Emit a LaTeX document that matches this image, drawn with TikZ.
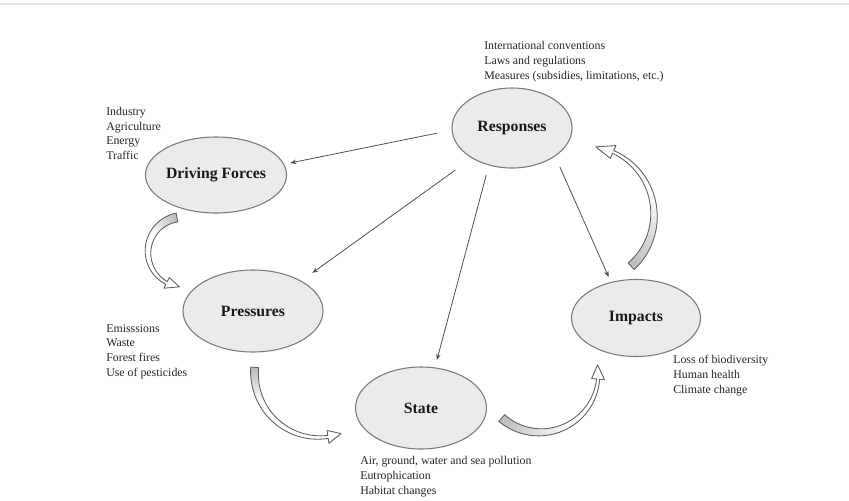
\documentclass[tikz,border=0pt]{standalone}
\usepackage{fontspec}
\setmainfont{Liberation Serif}
\usetikzlibrary{arrows.meta,shapes.geometric}
\definecolor{ellfill}{HTML}{EBEBEB}
\definecolor{ellline}{HTML}{7A7A7A}
\definecolor{arrline}{HTML}{505050}
\definecolor{bentcol}{HTML}{606060}
\definecolor{tailgray}{HTML}{BDBDBD}
\definecolor{txtcol}{HTML}{262626}
\newcommand{\BAfrac}{0.35}
% #1 cx, #2 cy, #3 r, #4 start angle, #5 head angle, #6 tail width, #7 neck width, #8 head width, #9 head length (deg)
\newcommand{\bentarrow}[9]{%
  \pgfmathsetmacro{\BAs}{ifthenelse(#5>#4,1,-1)}%
  \pgfmathsetmacro{\BAtip}{#5+\BAs*#9}%
  \foreach \k in {0,...,11}{%
    \pgfmathsetmacro{\BAa}{#4+\BAfrac*((#5)-(#4))*\k/12}%
    \pgfmathsetmacro{\BAb}{#4+\BAfrac*((#5)-(#4))*(\k+1.3)/12}%
    \pgfmathsetmacro{\BAc}{100-\k*100/12}%
    \fill[tailgray!\BAc!white] plot[domain=\BAa:\BAb,samples=6,variable=\t]
       ({#1+(#3+(#6+(#7-#6)*(\t-(#4))/((#5)-(#4)))/2)*cos(\t)},
        {#2+(#3+(#6+(#7-#6)*(\t-(#4))/((#5)-(#4)))/2)*sin(\t)})
     -- plot[domain=\BAb:\BAa,samples=6,variable=\t]
       ({#1+(#3-(#6+(#7-#6)*(\t-(#4))/((#5)-(#4)))/2)*cos(\t)},
        {#2+(#3-(#6+(#7-#6)*(\t-(#4))/((#5)-(#4)))/2)*sin(\t)})
     -- cycle;
  }%
  \draw[bentarrowline] plot[domain=#4:#5,samples=50,variable=\t]
     ({#1+(#3+(#6+(#7-#6)*(\t-(#4))/((#5)-(#4)))/2)*cos(\t)},
      {#2+(#3+(#6+(#7-#6)*(\t-(#4))/((#5)-(#4)))/2)*sin(\t)})
   -- ({#1+(#3+#8/2)*cos(#5)},{#2+(#3+#8/2)*sin(#5)})
   -- ({#1+#3*cos(\BAtip)},{#2+#3*sin(\BAtip)})
   -- ({#1+(#3-#8/2)*cos(#5)},{#2+(#3-#8/2)*sin(#5)})
   -- plot[domain=#5:#4,samples=50,variable=\t]
     ({#1+(#3-(#6+(#7-#6)*(\t-(#4))/((#5)-(#4)))/2)*cos(\t)},
      {#2+(#3-(#6+(#7-#6)*(\t-(#4))/((#5)-(#4)))/2)*sin(\t)})
   -- cycle;
}
\tikzset{
  stage/.style={ellipse, draw=ellline, fill=ellfill, line width=0.8pt, inner sep=0pt, outer sep=0pt,
    font=\fontsize{11.8}{14}\selectfont\bfseries, text=black!90},
  items/.style={anchor=west, align=left, inner sep=0pt, font=\fontsize{8.9}{11}\selectfont, text=txtcol},
  link/.style={draw=arrline, line width=0.6pt, -{Stealth[length=4.5pt,width=3.4pt]}},
  bentarrowline/.style={draw=bentcol, line width=0.65pt, line join=round},
}
\begin{document}
\begin{tikzpicture}[x=0.75pt,y=-0.75pt]
\useasboundingbox (0,0) rectangle (849,500);
\draw[black!10, line width=1.2pt] (0,4) -- (849,4);

% stages
\node[stage, minimum width=90pt, minimum height=60pt] (resp) at (512,128) {Responses};
\node[stage, minimum width=100.5pt, minimum height=57pt] (df) at (216,175) {Driving Forces};
\node[stage, minimum width=105pt, minimum height=61.5pt] (pr) at (253,311) {Pressures};
\node[stage, minimum width=98.25pt, minimum height=61.5pt] (st) at (421,408) {State};
\node[stage, minimum width=96.75pt, minimum height=57.75pt] (imp) at (636,318) {Impacts};

% item lists
\node[items] (respitems) at (484,61.5) {International conventions\\Laws and regulations\\Measures (subsidies, limitations, etc.)};
\node[items] (dfitems) at (106,133.5) {Industry\\Agriculture\\Energy\\Traffic};
\node[items] (pritems) at (106,351.5) {Emisssions\\Waste\\Forest fires\\Use of pesticides};
\node[items] (stitems) at (360,476.5) {Air, ground, water and sea pollution\\Eutrophication\\Habitat changes};
\node[items] (impitems) at (673,375.5) {Loss of biodiversity\\Human health\\Climate change};

% response links
\draw[link, shorten <=11.5pt, shorten >=5pt] (resp.182) -- (df.9);
\draw[link, shorten <=15.8pt, shorten >=10.5pt] (resp.217) -- (pr.32);
\draw[link, shorten <=7.9pt, shorten >=6.2pt] (resp.238) -- (st.71);
\draw[link, shorten <=9pt, shorten >=4.5pt] (resp.327) -- (imp.125);

% curved block arrows
\renewcommand{\BAfrac}{0.35}
\bentarrow{183}{252}{35}{260}{118}{9}{3}{12}{22}
\renewcommand{\BAfrac}{0.3}
\bentarrow{319}{373}{64.5}{185}{82}{8}{3}{13}{12}
\renewcommand{\BAfrac}{0.55}
\bentarrow{540}{374}{58.3}{131}{5}{9}{3}{13}{14}
\renewcommand{\BAfrac}{0.55}
\bentarrow{585}{215}{69}{48}{-66}{9}{3}{14}{15}
\end{tikzpicture}
\end{document}
